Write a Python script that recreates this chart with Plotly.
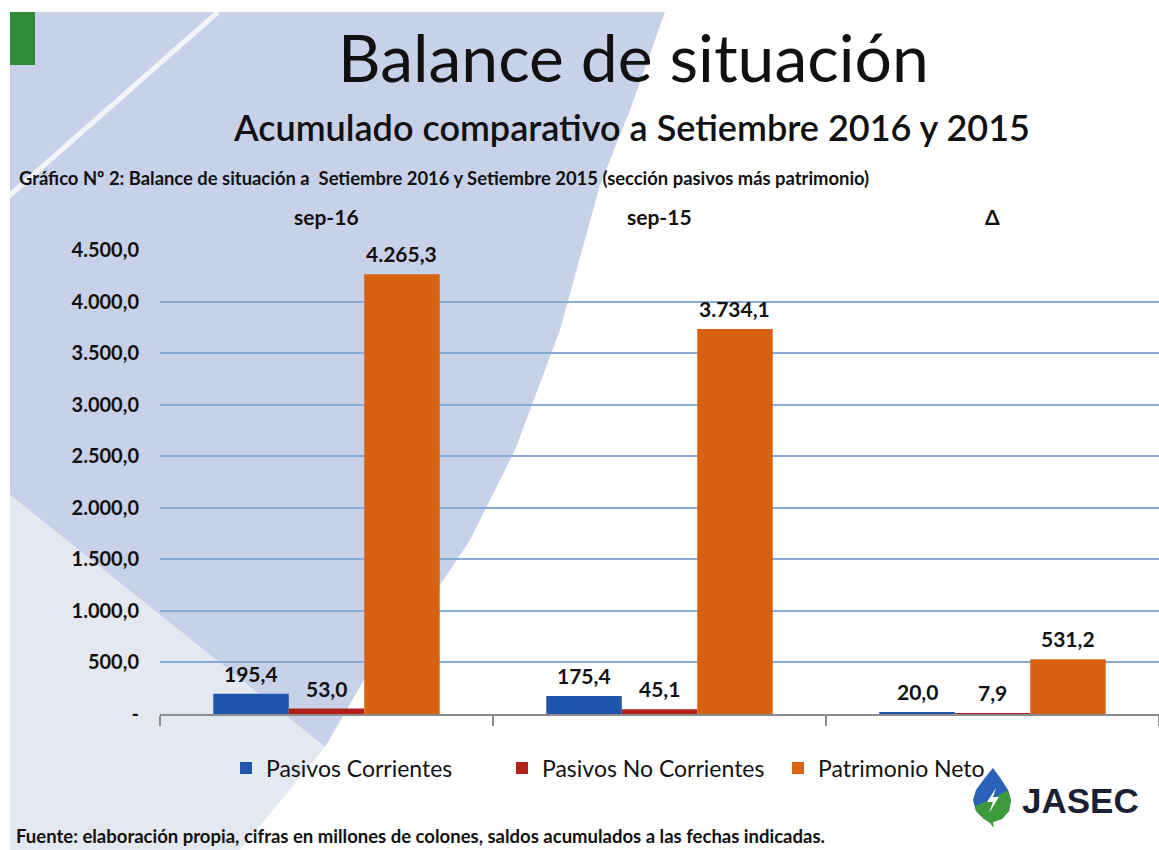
import plotly.graph_objects as go

# ---------------- data ----------------
categories = ["sep-16", "sep-15", "Δ"]
series_names = ["Pasivos Corrientes", "Pasivos No Corrientes", "Patrimonio Neto"]
pasivos_corrientes = [195.4, 175.4, 20.0]
pasivos_no_corrientes = [53.0, 45.1, 7.9]
patrimonio_neto = [4265.3, 3734.1, 531.2]
series_colors = ["#1f55ad", "#b3201c", "#d8620f"]
y_tick_values = [0, 500, 1000, 1500, 2000, 2500, 3000, 3500, 4000, 4500]
y_tick_labels = ["-", "500,0", "1.000,0", "1.500,0", "2.000,0", "2.500,0",
                 "3.000,0", "3.500,0", "4.000,0", "4.500,0"]

title_text = "Balance de situación"
subtitle_text = "Acumulado comparativo a Setiembre 2016 y 2015"
chart_caption = ("Gráfico Nº 2: Balance de situación a  Setiembre 2016 y Setiembre 2015 "
                 "(sección pasivos más patrimonio)")
footer_text = ("Fuente: elaboración propia, cifras en millones de colones, "
               "saldos acumulados a las fechas indicadas.")

# ---------------- layout geometry ----------------
W, H = 1159, 850
L, R, T, B = 160, 0, 250, 136
PW, PH = W - L - R, H - T - B
FONT = "Lato"
BARGAP = 0.32


def px(x):
    return (x - L) / PW


def py(y):
    return (H - B - y) / PH


def path(points):
    return "M " + " L ".join(f"{px(a):.5f},{py(b):.5f}" for a, b in points) + " Z"


def es_fmt(v):
    return f"{v:,.1f}".replace(",", "X").replace(".", ",").replace("X", ".")


all_series = [pasivos_corrientes, pasivos_no_corrientes, patrimonio_neto]

fig = go.Figure()
for name, vals, col in zip(series_names, all_series, series_colors):
    fig.add_trace(go.Bar(
        x=categories, y=vals, name=name, marker=dict(color=col, line=dict(width=0)),
    ))

shapes = []
# decorative background
shapes.append(dict(type="path", xref="paper", yref="paper", layer="below",
                   path=path([(10, 12), (665, 12), (630, 110), (600, 185), (560, 330),
                              (515, 450), (470, 540), (420, 615), (364, 680), (325, 747),
                              (10, 495)]),
                   fillcolor="#c7d1e8", line=dict(width=0)))
shapes.append(dict(type="path", xref="paper", yref="paper", layer="below",
                   path=path([(10, 495), (325, 747), (240, 850), (10, 850)]),
                   fillcolor="#e4e8f1", line=dict(width=0)))
shapes.append(dict(type="line", xref="paper", yref="paper", layer="below",
                   x0=px(218), y0=py(12), x1=px(8), y1=py(197),
                   line=dict(color="rgba(255,255,255,0.75)", width=5)))
# green corner square
shapes.append(dict(type="rect", xref="paper", yref="paper",
                   x0=px(10), y0=py(12), x1=px(35), y1=py(65),
                   fillcolor="#2f8a3a", line=dict(width=0)))
# JASEC drop logo
shapes.append(dict(type="path", xref="paper", yref="paper",
                   path=path([(993, 768), (1001, 779), (1008, 790), (1011, 800), (1009, 811),
                              (1002, 819), (993, 822), (984, 819), (976, 811), (973, 800),
                              (976, 790), (984, 779)]),
                   fillcolor="#2a62b8", line=dict(width=0)))
shapes.append(dict(type="path", xref="paper", yref="paper",
                   path=path([(1008, 790), (1011, 800), (1009, 811), (1002, 819), (993, 822),
                              (994, 828), (990, 823), (984, 819), (976, 811), (975, 806),
                              (990, 800)]),
                   fillcolor="#3c9a3c", line=dict(width=0)))
shapes.append(dict(type="path", xref="paper", yref="paper",
                   path=path([(996, 788), (987, 802), (993, 802), (989, 813), (999, 797),
                              (993, 797)]),
                   fillcolor="white", line=dict(width=0)))

annotations = []
annotations.append(dict(text=title_text, xref="paper", yref="paper", x=px(633), y=py(56),
                        xanchor="center", yanchor="middle", showarrow=False,
                        font=dict(family=FONT, size=66, color="#111111")))
annotations.append(dict(text=subtitle_text, xref="paper", yref="paper", x=px(631), y=py(127),
                        xanchor="center", yanchor="middle", showarrow=False,
                        font=dict(family=FONT, size=36, color="#111111", weight=600)))
annotations.append(dict(text=chart_caption, xref="paper", yref="paper", x=px(17), y=py(178),
                        xanchor="left", yanchor="middle", showarrow=False,
                        font=dict(family=FONT, size=18.4, color="#111111", weight="bold")))
annotations.append(dict(text=footer_text, xref="paper", yref="paper", x=px(14), y=py(836),
                        xanchor="left", yanchor="middle", showarrow=False,
                        font=dict(family=FONT, size=18.5, color="#111111", weight="bold")))
annotations.append(dict(text="JASEC", xref="paper", yref="paper", x=px(1020), y=py(800),
                        xanchor="left", yanchor="middle", showarrow=False,
                        font=dict(family="Liberation Sans", size=35, color="#1b1f33",
                                  weight="bold")))
for c in categories:
    annotations.append(dict(text=c, xref="x", yref="paper", x=c, y=py(216),
                            xanchor="center", yanchor="middle", showarrow=False,
                            font=dict(family=FONT, size=21, color="#111111", weight="bold")))

# data labels above each bar
bar_px = PW / len(categories) * (1 - BARGAP) / len(all_series)
for i, vals in enumerate(all_series):
    for c, v in zip(categories, vals):
        annotations.append(dict(text=es_fmt(v), xref="x", yref="y", x=c, y=v,
                                xshift=(i - 1) * bar_px, yshift=6,
                                xanchor="center", yanchor="bottom", showarrow=False,
                                font=dict(family=FONT, size=21, color="#111111",
                                          weight="bold")))

fig.update_layout(
    width=W, height=H,
    margin=dict(l=L, r=R, t=T, b=B, pad=0),
    paper_bgcolor="white", plot_bgcolor="rgba(0,0,0,0)",
    barmode="group", bargap=BARGAP, bargroupgap=0,
    separators=",.",
    font=dict(family=FONT, color="#111111"),
    showlegend=True,
    legend=dict(orientation="h", x=px(226), y=py(768), xanchor="left", yanchor="middle",
                font=dict(family=FONT, size=23, color="#111111"),
                bgcolor="rgba(0,0,0,0)", itemwidth=30, entrywidth=231,
                entrywidthmode="pixels"),
    shapes=shapes, annotations=annotations,
)
fig.update_xaxes(showline=True, linecolor="#8c8c8c", linewidth=1.5,
                 ticks="outside", tickson="boundaries", ticklen=10, tickcolor="#8c8c8c",
                 tickwidth=1.5, showticklabels=False, showgrid=False, zeroline=False)
fig.update_yaxes(range=[0, 4500], tickvals=y_tick_values, ticktext=y_tick_labels,
                 showgrid=True, gridcolor="#86abd9", gridwidth=1.5, zeroline=False,
                 showline=False, ticks="", ticklabelstandoff=20,
                 tickfont=dict(family=FONT, size=20, color="#111111", weight="bold"))

fig.write_html("out.html", config={"displayModeBar": False},
               post_script="document.body.style.margin='0px';")
